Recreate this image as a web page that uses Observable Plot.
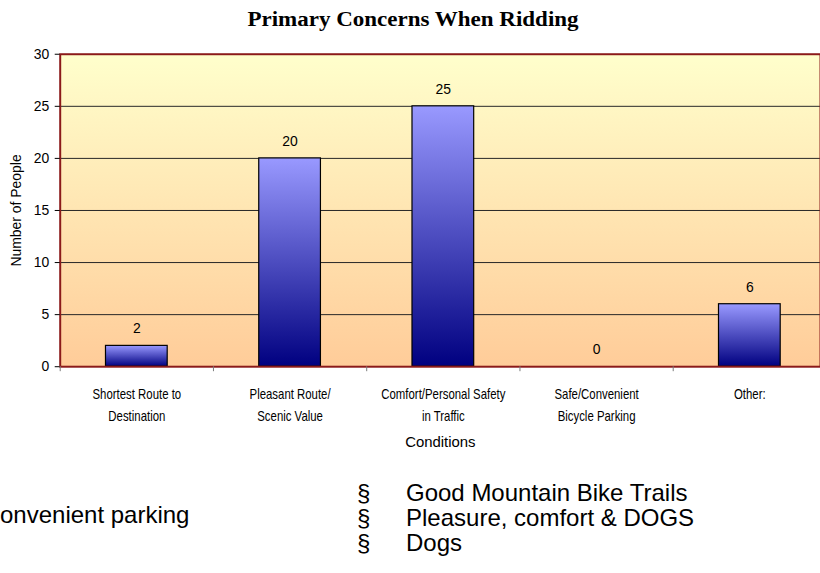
<!DOCTYPE html>
<html>
<head>
<meta charset="utf-8">
<script src="https://cdn.jsdelivr.net/npm/d3@7"></script>
<script src="https://cdn.jsdelivr.net/npm/@observablehq/plot@0.6"></script>
<style>
  html, body { margin: 0; padding: 0; background: #fff; }
  #wrap { position: relative; width: 820px; height: 573px; overflow: hidden; font-family: "Liberation Sans", Arial, sans-serif; color: #000; }
  #title { position: absolute; left: 0; width: 826px; top: 6px; text-align: center; font-family: "Liberation Serif", "Times New Roman", serif; font-weight: bold; font-size: 20px; line-height: 26px; transform: scaleX(1.15); transform-origin: 413px 0; }
  #chart { position: absolute; left: 0; top: 0; }
  .note { position: absolute; font-size: 24px; line-height: 25px; white-space: pre; }
</style>
</head>
<body>
<div id="wrap">
  <div id="chart"></div>
  <div id="title"></div>
  <div id="notesLeft" class="note"></div>
  <div id="bullets" class="note"></div>
  <div id="notesRight" class="note"></div>
</div>
<script>
const title = "Primary Concerns When Ridding";
const categories = [
  "Shortest Route to\nDestination",
  "Pleasant Route/\nScenic Value",
  "Comfort/Personal Safety\nin Traffic",
  "Safe/Convenient\nBicycle Parking",
  "Other:"
];
const values = [2, 20, 25, 0, 6];
const yTicks = [0, 5, 10, 15, 20, 25, 30];
const gridTicks = [5, 10, 15, 20, 25];
const yLabel = "Number of People";
const xLabel = "Conditions";
const leftNotes = ["onvenient parking"];
const otherNotes = ["Good Mountain Bike Trails", "Pleasure, comfort & DOGS", "Dogs"];

const data = categories.map((c, i) => ({category: c, value: values[i]}));

const chart = Plot.plot({
  width: 824,
  height: 460,
  marginTop: 54,
  marginBottom: 92,
  marginLeft: 60,
  marginRight: 0,
  style: {background: "transparent", fontFamily: "'Liberation Sans', Arial, sans-serif", color: "#000", overflow: "visible"},
  x: {domain: categories, range: [60, 830], paddingInner: 0.6, paddingOuter: 0.3},
  y: {domain: [0, 30]},
  marks: [
    Plot.frame({fill: "url(#bgGrad)", stroke: "none"}),
    Plot.ruleY(gridTicks, {stroke: "#262626", strokeWidth: 1}),
    Plot.barY(data, {x: "category", y: "value", fill: "url(#barGrad)", stroke: "#000", strokeWidth: 1.2}),
    Plot.text(data, {x: "category", y: "value", text: d => String(d.value), dy: -17, fontSize: 14, fill: "#000"}),
    Plot.frame({fill: "none", stroke: "#8b1a1a", strokeWidth: 2}),
    Plot.axisY({ticks: yTicks, tickSize: 5, tickPadding: 6, fontSize: 14, label: yLabel, labelAnchor: "center", labelOffset: 49, labelArrow: false}),
    Plot.axisX({tickSize: 5, dx: -77, text: null, stroke: "#7a7a7a", label: null}),
    Plot.axisX({tickSize: 0, tickPadding: 17, fontSize: 15.5, lineHeight: 1.42, label: xLabel, labelAnchor: "center", labelOffset: 81, labelArrow: false})
  ]
});

// gradients
const ns = "http://www.w3.org/2000/svg";
const defs = document.createElementNS(ns, "defs");
function grad(id, top, bottom) {
  const g = document.createElementNS(ns, "linearGradient");
  g.setAttribute("id", id);
  g.setAttribute("x1", "0"); g.setAttribute("y1", "0");
  g.setAttribute("x2", "0"); g.setAttribute("y2", "1");
  [[0, top], [1, bottom]].forEach(([o, c]) => {
    const s = document.createElementNS(ns, "stop");
    s.setAttribute("offset", o);
    s.setAttribute("stop-color", c);
    g.appendChild(s);
  });
  defs.appendChild(g);
}
grad("bgGrad", "#FFFFCC", "#FFCC99");
grad("barGrad", "#9999FF", "#000080");
chart.insertBefore(defs, chart.firstChild);

// condensed look for the category labels (scale horizontally around each label's anchor)
chart.querySelectorAll('g[aria-label="x-axis tick label"] text').forEach(t => {
  t.setAttribute("transform", (t.getAttribute("transform") || "") + " scale(0.74,1)");
});
chart.querySelectorAll('g[aria-label="x-axis label"] text').forEach(t => {
  t.setAttribute("font-size", "15");
});

document.getElementById("chart").appendChild(chart);
document.getElementById("title").textContent = title;

const nl = document.getElementById("notesLeft");
nl.style.left = "0px"; nl.style.top = "502px";
nl.textContent = leftNotes.join("\n");
const bl = document.getElementById("bullets");
bl.style.left = "357px"; bl.style.top = "480px";
bl.textContent = otherNotes.map(() => "§").join("\n");
const nr = document.getElementById("notesRight");
nr.style.left = "406px"; nr.style.top = "480px";
nr.textContent = otherNotes.join("\n");
</script>
</body>
</html>
